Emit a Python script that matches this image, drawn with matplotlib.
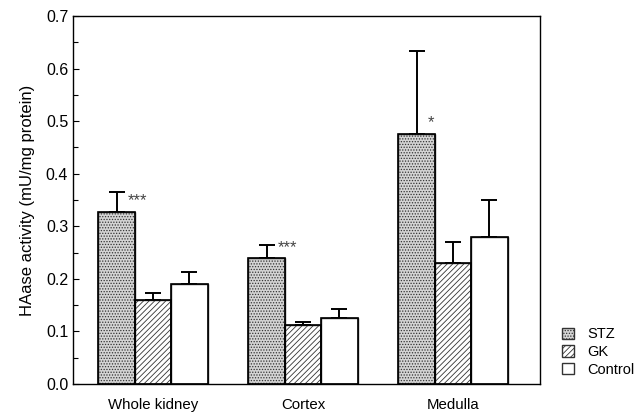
import numpy as np
import matplotlib
matplotlib.use("Agg")
import matplotlib.pyplot as plt
from matplotlib.ticker import MultipleLocator

plt.rcParams["font.family"] = ["Liberation Sans", "DejaVu Sans"]
plt.rcParams["hatch.linewidth"] = 0.6

regions = ["Whole kidney", "Cortex", "Medulla"]
groups = ["STZ", "GK", "Control"]

stz = [0.327, 0.239, 0.476]
gk = [0.160, 0.112, 0.230]
control = [0.191, 0.125, 0.280]

stz_err = [0.038, 0.025, 0.157]
gk_err = [0.014, 0.006, 0.040]
control_err = [0.022, 0.018, 0.070]

stz_marks = ["***", "***", "*"]
mark_y = [0.348, 0.259, 0.498]

fig = plt.figure(figsize=(6.37, 4.13), dpi=100)
ax = fig.add_axes([0.1146, 0.0702, 0.7331, 0.8911])

x = np.arange(len(regions))
w = 0.243

styles = [
    dict(facecolor="#d4d4d4", hatch="......", edgecolor="#333333"),
    dict(facecolor="white", hatch="//////", edgecolor="#333333"),
    dict(facecolor="white", hatch="", edgecolor="#333333"),
]

series = [stz, gk, control]
errors = [stz_err, gk_err, control_err]

for i, (vals, errs, st, name) in enumerate(zip(series, errors, styles, groups)):
    pos = x + (i - 1) * w
    ax.bar(pos, vals, w, label=name, linewidth=1.0, zorder=2, **st)
    ax.bar(pos, vals, w, facecolor="none", edgecolor="black", linewidth=1.2, zorder=3)
    ax.errorbar(pos, vals, yerr=[np.zeros(len(vals)), errs], fmt="none",
                ecolor="black", elinewidth=1.4, capsize=6, capthick=1.4, zorder=1)

# significance marks next to the STZ bars
for xi, y, m in zip(x - w, mark_y, stz_marks):
    ax.text(xi + 0.075, y, m, fontsize=12, ha="left", va="center", color="#444444")

ax.set_xlim(-0.533, 2.58)
ax.set_ylim(0, 0.7)
ax.yaxis.set_major_locator(MultipleLocator(0.1))
ax.yaxis.set_minor_locator(MultipleLocator(0.05))
ax.tick_params(axis="y", direction="in", length=4, width=0.8, labelsize=11.5, pad=3.5)
ax.tick_params(axis="y", which="minor", direction="in", length=3.5, width=0.8)
ax.set_xticks(x)
ax.set_xticklabels(regions)
ax.tick_params(axis="x", length=0, labelsize=10.8, pad=10)
ax.set_ylabel("HAase activity (mU/mg protein)", fontsize=12, labelpad=8)
for s in ax.spines.values():
    s.set_linewidth(1.0)

ax.legend(loc="lower left", bbox_to_anchor=(1.023, -0.012), frameon=False,
          fontsize=10.5, handlelength=0.8, handleheight=0.8, handletextpad=0.9,
          labelspacing=0.25, borderpad=0.3)

fig.savefig("out.png", dpi=100)
